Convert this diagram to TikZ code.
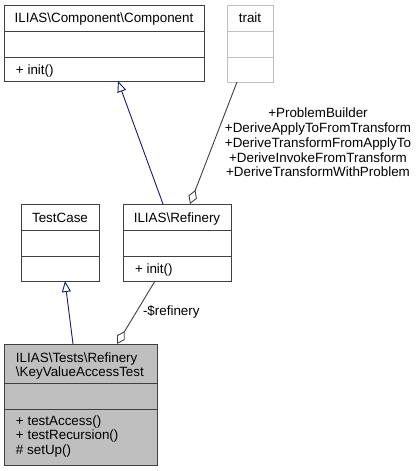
\documentclass[tikz,border=0pt]{standalone}
\usepackage{fontspec}
\setmainfont{Liberation Sans}
\usetikzlibrary{arrows.meta}
\definecolor{edgegray}{HTML}{404040}
\definecolor{navyblue}{HTML}{191970}
\definecolor{fillgray}{HTML}{BFBFBF}
\definecolor{lightborder}{HTML}{BFBFBF}
\tikzset{
  classbox/.style={draw=edgegray, line width=1pt, inner sep=0pt, outer sep=0pt, anchor=north west},
  traitbox/.style={classbox, draw=lightborder},
  sepline/.style={draw=edgegray, line width=1pt},
  lightsep/.style={draw=lightborder, line width=1pt},
  txt/.style={inner sep=0pt, outer sep=0pt},
  inherit/.style={draw=navyblue, line width=0.9pt, -{Triangle[open, length=11pt, width=9pt]}},
  aggreg/.style={draw=edgegray, line width=0.9pt, -{Diamond[open, length=15pt, width=9pt]}},
  edgelabel/.style={inner sep=0pt, align=center}
}
\begin{document}
\begin{tikzpicture}[x=1pt, y=-1pt, font=\fontsize{13.4}{14.6}\selectfont]
\useasboundingbox (0,0) rectangle (416,471);

% ILIAS\Component\Component
\node[classbox, minimum width=200pt, minimum height=76pt] (comp) at (4,5) {};
\draw[sepline] (4,31) -- (204,31);
\draw[sepline] (4,57) -- (204,57);
\node[txt, anchor=base] (compname) at (104,23) {ILIAS\textbackslash Component\textbackslash Component};
\node[txt, anchor=base west] (compinit) at (16,74) {+ init()};

% trait
\node[traitbox, minimum width=46pt, minimum height=77pt] (trait) at (227,5) {};
\draw[lightsep] (227,31) -- (273,31);
\draw[lightsep] (227,57) -- (273,57);
\node[txt, anchor=base] (traitname) at (250,23) {trait};

% TestCase
\node[classbox, minimum width=78pt, minimum height=77pt] (tc) at (21,204) {};
\draw[sepline] (21,230) -- (99,230);
\draw[sepline] (21,256) -- (99,256);
\node[txt, anchor=base] (tcname) at (60,222) {TestCase};

% ILIAS\Refinery
\node[classbox, minimum width=108pt, minimum height=77pt] (ref) at (123,204) {};
\draw[sepline] (123,230) -- (231,230);
\draw[sepline] (123,256) -- (231,256);
\node[txt, anchor=base] (refname) at (177,222) {ILIAS\textbackslash Refinery};
\node[txt, anchor=base west] (refinit) at (135,273) {+ init()};

% ILIAS\Tests\Refinery\KeyValueAccessTest
\node[classbox, fill=fillgray, minimum width=153pt, minimum height=121pt] (kvat) at (4,344) {};
\draw[sepline] (4,383) -- (157,383);
\draw[sepline] (4,409) -- (157,409);
\node[txt, anchor=base west] (kvname1) at (16,362) {ILIAS\textbackslash Tests\textbackslash Refinery};
\node[txt, anchor=base west] (kvname2) at (16,376) {\textbackslash KeyValueAccessTest};
\node[txt, anchor=base west] (kvm1) at (16,425) {+ testAccess()};
\node[txt, anchor=base west] (kvm2) at (16,439.5) {+ testRecursion()};
\node[txt, anchor=base west] (kvm3) at (16,454) {\# setUp()};

% edges
\draw[inherit] ([xshift=-14pt]ref.north) -- ([xshift=14pt]comp.south);
\draw[aggreg] ([xshift=-13pt]trait.south) -- ([xshift=13pt]ref.north);
\draw[inherit] ([xshift=-7.5pt]kvat.north) -- ([xshift=5pt]tc.south);
\draw[aggreg] ([xshift=-22pt]ref.south) -- ([xshift=36.5pt]kvat.north);

% labels
\node[edgelabel, anchor=north, font=\fontsize{13.4}{14.7}\selectfont] (traitlabel) at (318,108)
  {+ProblemBuilder\\+DeriveApplyToFromTransform\\+DeriveTransformFromApplyTo\\+DeriveInvokeFromTransform\\+DeriveTransformWithProblem};
\node[txt, anchor=west] (reflabel) at (143,312) {-\$refinery};
\end{tikzpicture}
\end{document}
